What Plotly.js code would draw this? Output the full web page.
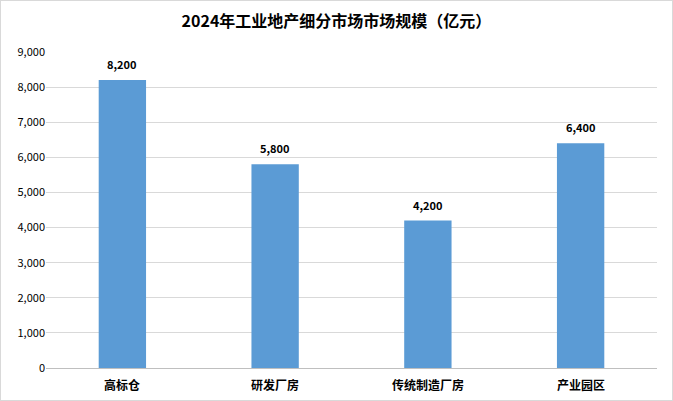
<!DOCTYPE html>
<html><head><meta charset="utf-8">
<script src="https://cdn.plot.ly/plotly-3.0.1.min.js"></script>
<style>html,body{margin:0;padding:0;background:#fff}#c{width:671px;height:399px;border:1px solid #d9d9d9}</style>
</head><body><div id="c"></div>
<script>
const categories = ["高标仓", "研发厂房", "传统制造厂房", "产业园区"];
const values = [8200, 5800, 4200, 6400];
const titleText = "2024年工业地产细分市场市场规模（亿元）";
const yTicks = [0,1000,2000,3000,4000,5000,6000,7000,8000,9000];

const font = '"Noto Sans CJK SC", "Liberation Sans", sans-serif';
const valueLabels = categories.map((c, i) => ({
  x: c, y: values[i], xref: 'x', yref: 'y', text: '<b>' + values[i].toLocaleString('en-US') + '</b>',
  showarrow: false, yanchor: 'bottom', yshift: 6,
  font: {family: font, size: 11, color: '#000'}
}));
const catLabels = categories.map(c => ({
  x: c, y: 0, xref: 'x', yref: 'y', text: '<b>' + c + '</b>',
  showarrow: false, yanchor: 'top', yshift: -6,
  font: {family: font, size: 12, color: '#000'}
}));
Plotly.newPlot('c', [{
  type: 'bar', x: categories, y: values,
  marker: {color: '#5b9bd5'},
  hoverinfo: 'none'
}], {
  width: 671, height: 399,
  margin: {l: 45, r: 15, t: 51, b: 32},
  bargap: 0.69,
  paper_bgcolor: '#fff', plot_bgcolor: '#fff',
  title: {text: '<b>' + titleText + '</b>', font: {family: font, size: 16, color: '#000'}, x: 0.5, xanchor: 'center', y: 0.95, yanchor: 'middle'},
  showlegend: false,
  annotations: valueLabels.concat(catLabels),
  xaxis: {showticklabels: false, showline: true, linecolor: '#bfbfbf', ticks: '', fixedrange: true},
  yaxis: {range: [0, 9000], tickvals: yTicks, ticktext: yTicks.map(v => v.toLocaleString('en-US')),
    tickfont: {family: font, size: 11, color: '#000'}, gridcolor: '#d9d9d9', zeroline: false, showline: false, ticks: '', fixedrange: true}
}, {staticPlot: true});
</script></body></html>
